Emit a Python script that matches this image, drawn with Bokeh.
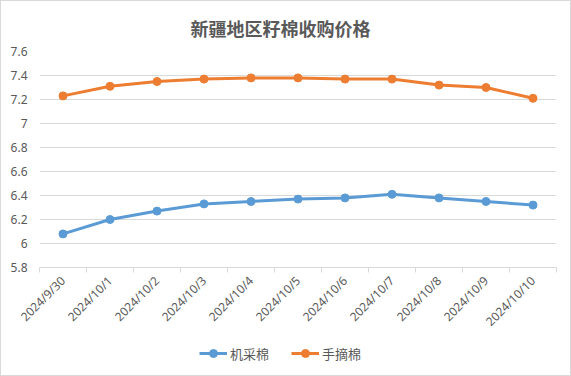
from bokeh.plotting import figure
from bokeh.embed import file_html
from bokeh.resources import INLINE
from bokeh.layouts import column
from bokeh.models import FixedTicker, NumeralTickFormatter, Range1d, Legend, LegendItem, Title
import math

categories = ["2024/9/30", "2024/10/1", "2024/10/2", "2024/10/3", "2024/10/4", "2024/10/5",
              "2024/10/6", "2024/10/7", "2024/10/8", "2024/10/9", "2024/10/10"]
machine = [6.08, 6.20, 6.27, 6.33, 6.35, 6.37, 6.38, 6.41, 6.38, 6.35, 6.32]
hand = [7.23, 7.31, 7.35, 7.37, 7.38, 7.38, 7.37, 7.37, 7.32, 7.30, 7.21]
y_ticks = [5.8, 6.0, 6.2, 6.4, 6.6, 6.8, 7.0, 7.2, 7.4, 7.6]
series_names = ["机采棉", "手摘棉"]

xs = [i + 0.5 for i in range(len(categories))]
blue = "#5B9BD5"
orange = "#ED7D31"

p = figure(width=569, height=339, output_backend="svg", toolbar_location=None,
           x_range=Range1d(0, len(categories)), y_range=Range1d(5.8, 7.6),
           min_border_left=38, min_border_right=14, min_border_top=50, min_border_bottom=73)
p.outline_line_color = None
p.background_fill_color = "white"
p.border_fill_color = "white"

p.title = Title(text="新疆地区籽棉收购价格", align="left", text_font_size="18px",
                text_font="Noto Sans CJK SC", text_font_style="bold", text_color="#595959",
                offset=151, standoff=21)

p.line(xs, machine, line_color=blue, line_width=3)
p.scatter(xs, machine, size=8, fill_color=blue, line_color=blue)
p.line(xs, hand, line_color=orange, line_width=3)
p.scatter(xs, hand, size=8, fill_color=orange, line_color=orange)

# x axis
p.xaxis.ticker = FixedTicker(ticks=xs, minor_ticks=list(range(len(categories) + 1)))
p.xaxis.major_label_overrides = {x: c for x, c in zip(xs, categories)}
p.xaxis.major_label_orientation = math.pi / 4
p.xaxis.major_tick_out = 0
p.xaxis.major_tick_in = 0
p.xaxis.minor_tick_out = 5
p.xaxis.minor_tick_in = 0
p.xaxis.minor_tick_line_color = "#d9d9d9"
p.xaxis.axis_line_color = "#d9d9d9"
p.xaxis.major_label_text_color = "#595959"
p.xaxis.major_label_text_font = "Noto Sans"
p.xaxis.major_label_text_font_size = "12px"
p.xaxis.major_label_standoff = 6

# y axis
p.yaxis.ticker = FixedTicker(ticks=y_ticks)
p.yaxis.formatter = NumeralTickFormatter(format="0.[0]")
p.yaxis.axis_line_color = None
p.yaxis.major_tick_line_color = None
p.yaxis.minor_tick_line_color = None
p.yaxis.major_label_text_color = "#595959"
p.yaxis.major_label_text_font = "Noto Sans"
p.yaxis.major_label_text_font_size = "12px"
p.yaxis.major_label_standoff = 6

p.xgrid.grid_line_color = None
p.ygrid.grid_line_color = "#d9d9d9"

# legend figure
lf = figure(width=569, height=35, output_backend="svg", toolbar_location=None,
            x_range=Range1d(0, 1), y_range=Range1d(0, 1),
            min_border=0, min_border_left=0, min_border_right=0, min_border_top=0, min_border_bottom=0)
lf.axis.visible = False
lf.grid.visible = False
lf.outline_line_color = None
lf.border_fill_color = "white"
la = lf.line([5, 6], [5, 6], line_color=blue, line_width=3)
lsa = lf.scatter([5], [5], size=8, fill_color=blue, line_color=blue)
lb = lf.line([5, 6], [5, 6], line_color=orange, line_width=3)
lsb = lf.scatter([5], [5], size=8, fill_color=orange, line_color=orange)
legend = Legend(items=[LegendItem(label=series_names[0], renderers=[la, lsa]),
                       LegendItem(label=series_names[1], renderers=[lb, lsb])],
                orientation="horizontal", location=(160, 12),
                label_text_font="Noto Sans CJK SC", label_text_font_size="13px",
                label_text_color="#595959", glyph_width=28, label_standoff=3, spacing=22,
                border_line_color=None, background_fill_alpha=0, padding=2, margin=0)
lf.add_layout(legend)

layout = column(p, lf, spacing=0)
layout.styles = {"border": "1px solid #d9d9d9"}
open("out.html", "w").write(file_html(layout, INLINE))
